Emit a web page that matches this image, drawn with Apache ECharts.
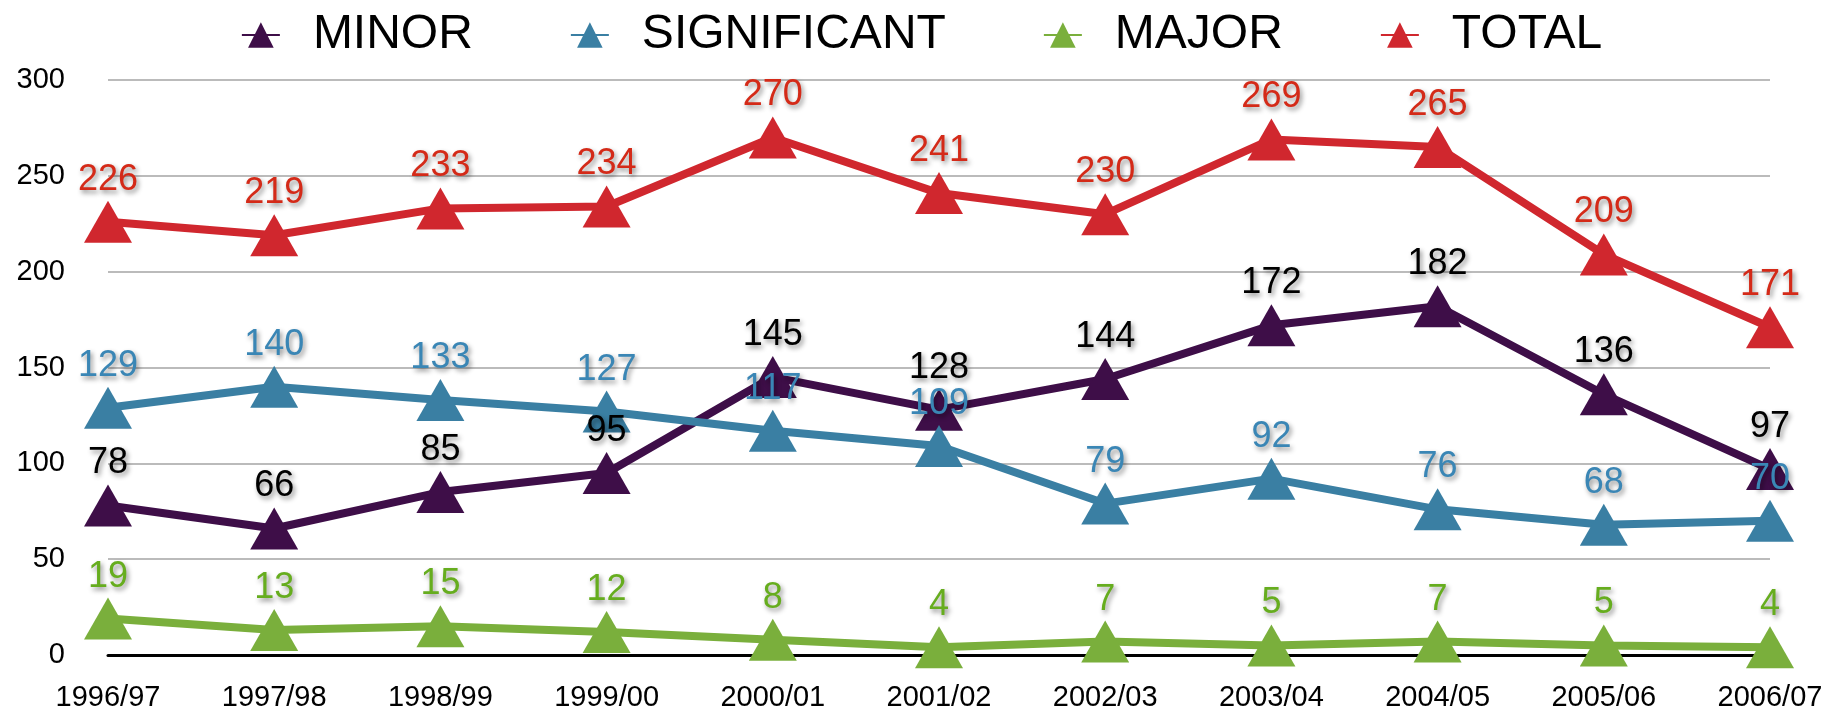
<!DOCTYPE html>
<html>
<head>
<meta charset="utf-8">
<script src="https://cdn.jsdelivr.net/npm/echarts@6/dist/echarts.min.js"></script>
<style>
  html, body { margin: 0; padding: 0; background: #fff; }
  #chart { width: 1843px; height: 714px; }
</style>
</head>
<body>
<div id="chart"></div>
<script>
const anos = ['1996/97', '1997/98', '1998/99', '1999/00', '2000/01', '2001/02', '2002/03', '2003/04', '2004/05', '2005/06', '2006/07'];
const minor = [78, 66, 85, 95, 145, 128, 144, 172, 182, 136, 97];
const significant = [129, 140, 133, 127, 117, 109, 79, 92, 76, 68, 70];
const major = [19, 13, 15, 12, 8, 4, 7, 5, 7, 5, 4];
const total = [226, 219, 233, 234, 270, 241, 230, 269, 265, 209, 171];

const fonte = "'Liberation Sans', Arial, Helvetica, sans-serif";

// monta uma serie de linha com triangulos e rotulos com sombra
function serie(nome, dados, cor, corTexto) {
  return {
    name: nome,
    type: 'line',
    data: dados,
    symbol: 'triangle',
    symbolSize: [48, 42],
    lineStyle: { width: 8, color: cor },
    itemStyle: { color: cor },
    label: {
      show: true,
      position: 'top',
      distance: 3,
      color: corTexto,
      fontSize: 36,
      fontFamily: fonte,
      textShadowColor: 'rgba(0,0,0,0.45)',
      textShadowBlur: 5,
      textShadowOffsetX: 2,
      textShadowOffsetY: 3
    },
    emphasis: { disabled: true },
    animation: false
  };
}

const chart = echarts.init(document.getElementById('chart'));

chart.setOption({
  backgroundColor: '#fff',
  legend: {
    top: 6,
    left: 'center',
    itemWidth: 38,
    itemHeight: 32,
    itemGap: 97,
    textStyle: {
      fontSize: 48,
      fontFamily: fonte,
      color: '#000',
      padding: [0, 0, 0, 28]
    },
    data: ['MINOR', 'SIGNIFICANT', 'MAJOR', 'TOTAL']
  },
  grid: {
    left: 108,
    right: 73,
    top: 80,
    bottom: 59
  },
  xAxis: {
    type: 'category',
    data: anos,
    boundaryGap: false,
    axisLine: { lineStyle: { color: '#000', width: 3 } },
    axisTick: { show: false },
    axisLabel: {
      color: '#000',
      fontSize: 29,
      fontFamily: fonte,
      margin: 28
    }
  },
  yAxis: {
    type: 'value',
    min: 0,
    max: 300,
    interval: 50,
    axisLine: { show: false },
    axisTick: { show: false },
    splitLine: { lineStyle: { color: '#bbbbbb', width: 2 } },
    axisLabel: {
      color: '#000',
      fontSize: 29,
      fontFamily: fonte,
      margin: 43
    }
  },
  series: [
    serie('MINOR', minor, '#3e0e48', '#000000'),
    serie('SIGNIFICANT', significant, '#3a7fa3', '#3a86b5'),
    serie('MAJOR', major, '#7aaf3c', '#66ad1e'),
    serie('TOTAL', total, '#d0272e', '#d42a18')
  ]
});
</script>
</body>
</html>
